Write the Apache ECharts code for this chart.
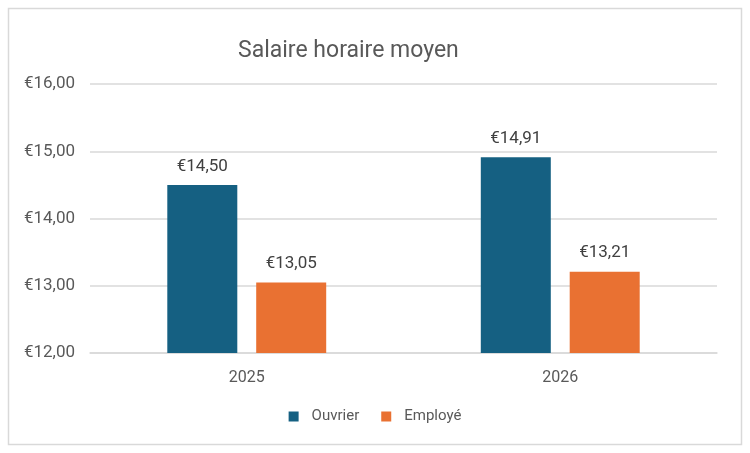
<!DOCTYPE html>
<html><head><meta charset="utf-8">
<script src="https://cdn.jsdelivr.net/npm/echarts@6/dist/echarts.min.js"></script>
<style>html,body{margin:0;padding:0;background:#fff}#c{width:750px;height:453px}</style>
</head><body><div id="c"></div>
<script>
const categories = ['2025', '2026'];
const ouvrier = [14.50, 14.91];
const employe = [13.05, 13.21];
const yTicks = { min: 12, max: 16, interval: 1 };

const fmt = v => '€' + v.toFixed(2).replace('.', ',');
const FONT = 'Roboto';
const chart = echarts.init(document.getElementById('c'));
chart.setOption({
  animation: false,
  textStyle: { fontFamily: FONT },
  graphic: [{ type: 'rect', shape: { x: 8.5, y: 8.5, width: 733, height: 436 },
    style: { fill: 'none', stroke: '#d9d9d9', lineWidth: 1.5 }, silent: true }],
  title: { text: 'Salaire horaire moyen', left: 233, top: 35,
    textStyle: { fontFamily: FONT, fontSize: 23, fontWeight: 'normal', color: '#595959' } },
  legend: { data: ['Ouvrier', 'Employé'], bottom: 24, left: 'center', itemWidth: 10, itemHeight: 10, itemGap: 22,
    icon: 'rect', textStyle: { fontFamily: FONT, fontSize: 15, color: '#595959', padding: [0, 0, 0, 8] } },
  grid: { left: 90, right: 33, top: 84, bottom: 100, containLabel: false },
  xAxis: { type: 'category', data: categories,
    axisLine: { lineStyle: { color: '#d9d9d9', width: 1.5 } }, axisTick: { show: false },
    axisLabel: { fontFamily: FONT, fontSize: 16, color: '#595959', margin: 17 } },
  yAxis: { type: 'value', min: yTicks.min, max: yTicks.max, interval: yTicks.interval,
    axisLine: { show: false }, axisTick: { show: false },
    splitLine: { lineStyle: { color: '#d9d9d9', width: 1.5 } },
    axisLabel: { fontFamily: FONT, fontSize: 17, color: '#595959', margin: 15, formatter: fmt } },
  series: [
    { name: 'Ouvrier', type: 'bar', data: ouvrier, barWidth: 70, barGap: '27%',
      itemStyle: { color: '#156082' },
      label: { show: true, position: 'top', distance: 10, formatter: p => fmt(p.value), fontFamily: FONT, fontSize: 17, color: '#404040' } },
    { name: 'Employé', type: 'bar', data: employe, barWidth: 70,
      itemStyle: { color: '#E97132' },
      label: { show: true, position: 'top', distance: 10, formatter: p => fmt(p.value), fontFamily: FONT, fontSize: 17, color: '#404040' } }
  ]
});
</script></body></html>
